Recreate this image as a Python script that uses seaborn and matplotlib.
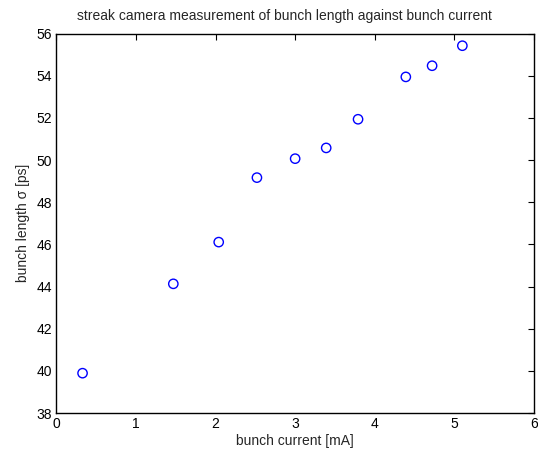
import numpy as np
import pandas as pd
import matplotlib
matplotlib.use('Agg')
import matplotlib.pyplot as plt
import seaborn as sns

# bunch current [mA] and measured bunch length [ps]
current = [0.33, 1.47, 2.04, 2.52, 3.00, 3.39, 3.79, 4.39, 4.72, 5.10]
length = [39.89, 44.13, 46.11, 49.17, 50.07, 50.58, 51.94, 53.95, 54.48, 55.43]
x_ticks = [0, 1, 2, 3, 4, 5, 6]
y_ticks = [38, 40, 42, 44, 46, 48, 50, 52, 54, 56]

data = pd.DataFrame({'current': current, 'length': length})

sns.set_style('white')
plt.rcParams['font.family'] = ['Liberation Sans', 'DejaVu Sans']

fig = plt.figure(figsize=(5.38, 4.53), dpi=100)
ax = fig.add_axes([0.1046, 0.0883, 0.888, 0.8373])

sns.scatterplot(x='current', y='length', data=data, ax=ax, marker='o',
                s=45, facecolor='none', edgecolor='#0000ff', linewidth=1.0)

ax.set_xlim(0, 6)
ax.set_ylim(38, 56)
ax.set_xticks(x_ticks)
ax.set_yticks(y_ticks)
ax.tick_params(direction='in', top=True, right=True, length=4, width=0.8,
               labelsize=10, colors='black', pad=3)
for sp in ax.spines.values():
    sp.set_color('black')
    sp.set_linewidth(1.0)
    sp.set_visible(True)

ax.set_xlabel('bunch current [mA]', fontsize=10, labelpad=2)
ax.set_ylabel('bunch length σ [ps]', fontsize=10, labelpad=5)
ax.set_title('streak camera measurement of bunch length against bunch current',
             fontsize=10, pad=10, x=0.478)

fig.savefig('out.png', dpi=100)
